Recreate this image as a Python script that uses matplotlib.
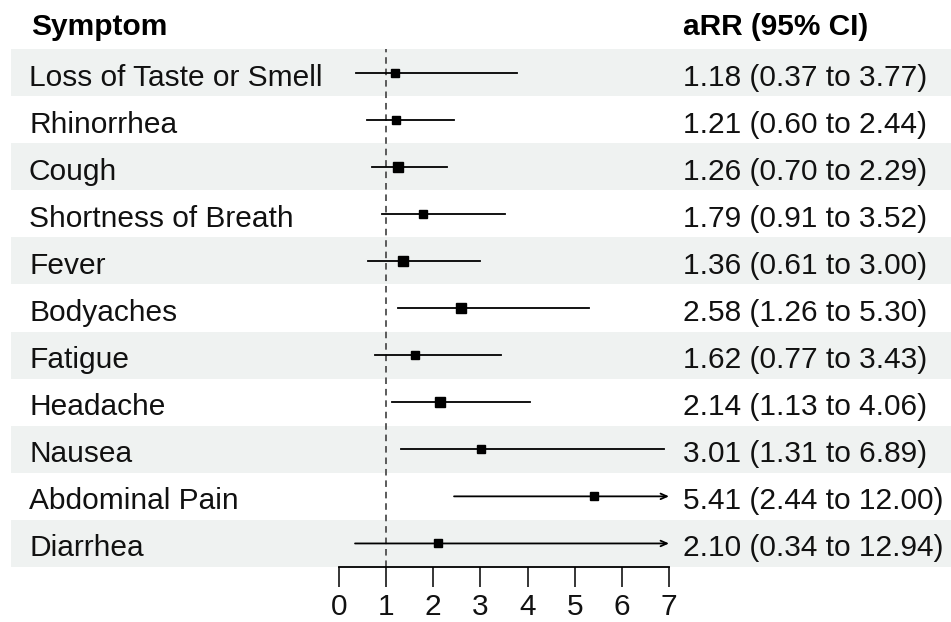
import numpy as np
import matplotlib
matplotlib.use("Agg")
import matplotlib.pyplot as plt
from matplotlib.patches import Rectangle
import matplotlib.transforms as mtransforms

plt.rcParams['font.family'] = ['Liberation Sans', 'DejaVu Sans']

symptoms = ["Loss of Taste or Smell", "Rhinorrhea", "Cough", "Shortness of Breath",
            "Fever", "Bodyaches", "Fatigue", "Headache", "Nausea",
            "Abdominal Pain", "Diarrhea"]
arr = [1.18, 1.21, 1.26, 1.79, 1.36, 2.58, 1.62, 2.14, 3.01, 5.41, 2.10]
lo = [0.37, 0.60, 0.70, 0.91, 0.61, 1.26, 0.77, 1.13, 1.31, 2.44, 0.34]
hi = [3.77, 2.44, 2.29, 3.52, 3.00, 5.30, 3.43, 4.06, 6.89, 12.00, 12.94]
box_px = [8, 8, 10, 8, 9, 9, 7, 9, 8, 8, 8]
xticks = [0, 1, 2, 3, 4, 5, 6, 7]
XMAX = 7

W, H = 951, 622
fig = plt.figure(figsize=(W / 100, H / 100), dpi=100)
fig.patch.set_facecolor("white")
fs = 21.5

# plot area in pixels: x 0->339, 7->669 ; rows from y=49 to y=567
left, right = 339, 669
top, bottom = 49, 567
ax = fig.add_axes([left / W, (H - bottom) / H, (right - left) / W, (bottom - top) / H])
n = len(symptoms)
ax.set_xlim(0, XMAX)
ax.set_ylim(n - 0.5, -0.5)
ax.set_facecolor("none")
for s in ["top", "right", "left"]:
    ax.spines[s].set_visible(False)
ax.spines["bottom"].set_linewidth(1.3)
ax.set_yticks([])
ax.set_xticks(xticks)
ax.set_xticklabels([str(t) for t in xticks], fontsize=fs, color="#111111")
ax.tick_params(axis="x", direction="out", length=14.5, width=1.1, pad=4)

# row shading across whole figure
trans = mtransforms.blended_transform_factory(fig.transFigure, ax.transData)
for i in range(n):
    if i % 2 == 0:
        ax.add_patch(Rectangle((11 / W, i - 0.5), 1 - 11 / W, 1.0, transform=trans,
                               facecolor="#eff2f1", edgecolor="none", zorder=0,
                               clip_on=False))

ax.axvline(1, color="#555555", linestyle=(0, (3.5, 2.6)), linewidth=1.35, zorder=1)

for i in range(n):
    x0 = lo[i]
    x1 = min(hi[i], XMAX)
    if hi[i] > XMAX:
        ax.annotate("", xy=(x1, i), xytext=(x0, i),
                    arrowprops=dict(arrowstyle="->,head_length=0.45,head_width=0.2",
                                    color="black", lw=1.3, shrinkA=0, shrinkB=0),
                    zorder=2)
    else:
        ax.plot([x0, x1], [i, i], color="black", linewidth=1.3, zorder=2)
    ax.plot(arr[i], i, marker="s", color="black", markersize=box_px[i] * 0.75,
            linestyle="none", zorder=3)

# text columns, baseline about 13 px below row centre
trans_txt = mtransforms.offset_copy(trans, fig=fig, x=0, y=-13, units="dots")
fig.text(31 / W, 1 - 35 / H, "Symptom", fontsize=fs, fontweight="bold",
         ha="left", va="baseline", color="black")
fig.text(683 / W, 1 - 35 / H, "aRR (95% CI)", fontsize=fs, fontweight="bold",
         ha="left", va="baseline", color="black")
for i in range(n):
    ax.text(29 / W, i, symptoms[i], transform=trans_txt, fontsize=fs,
            ha="left", va="baseline", color="#111111")
    label = "%.2f (%.2f to %.2f)" % (arr[i], lo[i], hi[i])
    ax.text(683 / W, i, label, transform=trans_txt, fontsize=fs,
            ha="left", va="baseline", color="#111111")

fig.savefig("out.png", dpi=100)
